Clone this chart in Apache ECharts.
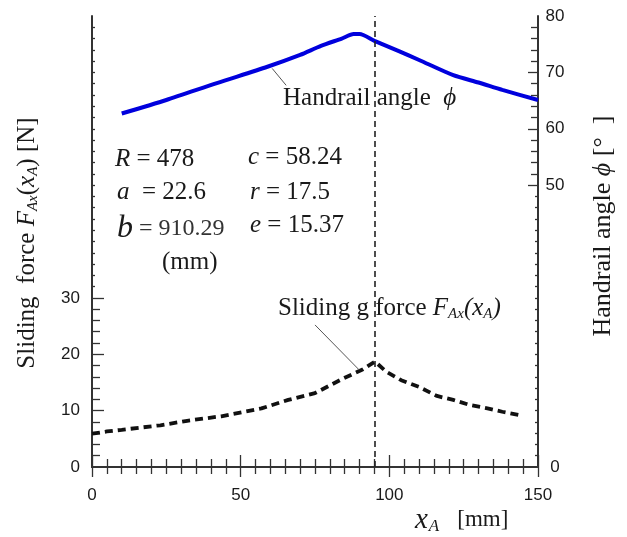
<!DOCTYPE html>
<html>
<head>
<meta charset="utf-8">
<script src="https://cdn.jsdelivr.net/npm/echarts@6/dist/echarts.min.js"></script>
<style>
  html, body { margin: 0; padding: 0; background: #fff; }
  #chart { width: 627px; height: 537px; }
</style>
</head>
<body>
<div id="chart"></div>
<script>
// tick labels
const xTickLabels = [0, 50, 100, 150];
const leftTickLabels = [0, 10, 20, 30];
const rightTickLabels = [0, 50, 60, 70, 80];

// handrail angle phi [deg] (right axis)
const handrailX = [10, 25, 42, 59, 70, 77, 84, 88, 90, 95, 103, 110, 121.5, 130, 138, 150];
const handrailAngle = [62.7, 65.1, 68.1, 71.0, 73.1, 74.7, 76.0, 76.8, 76.8, 75.6, 73.8, 72.2, 69.5, 68.2, 66.9, 65.1];

// sliding force F_Ax(x_A) [N] (left axis)
const forceX = [0, 5, 10, 23, 32, 43.5, 57, 66, 75, 84.5, 91, 95.2, 99, 104, 110, 116, 121.5, 127, 133, 138, 144];
const slidingForce = [5.9, 6.3, 6.6, 7.4, 8.2, 9.0, 10.4, 11.9, 13.1, 15.7, 17.3, 18.7, 16.9, 15.4, 14.2, 12.6, 11.9, 11.0, 10.4, 9.8, 9.2];

const peakX = 95.2;
const handrailLeader = [[60.6, 70.7], [65.3, 67.7]];
const forceLeader = [[75.0, 25.2], [89.9, 17.2]];

const serif = '"Liberation Serif", "Times New Roman", serif';
const sans = '"Liberation Sans", Arial, sans-serif';
const ink = '#1a1a1a';
const axisColor = '#333';

function range(from, to, step, skip) {
  const out = [];
  for (let v = from; v <= to + 1e-9; v += step) {
    if (!skip || v % skip !== 0) out.push(v);
  }
  return out;
}

function yAxisPart(position, ticks, length, labels, extra) {
  return Object.assign({
    type: 'value',
    position: position,
    min: 0,
    max: 80,
    axisLine: { show: false },
    splitLine: { show: false },
    axisTick: {
      show: true, inside: true, length: length, customValues: ticks,
      lineStyle: { color: axisColor, width: 1.3 }
    },
    axisLabel: labels ? {
      show: true, customValues: labels, color: ink,
      fontFamily: sans, fontSize: 17
    } : { show: false }
  }, extra || {});
}

const rich = {
  n: { font: '25px ' + serif, fill: ink },
  t: { font: '26px ' + serif, fill: ink },
  ti: { font: 'italic 26px ' + serif, fill: ink },
  i: { font: 'italic 25px ' + serif, fill: ink },
  s: { font: 'italic 15px ' + serif, fill: ink, padding: [12, 0, 0, 0] },
  b: { font: 'italic 32px ' + serif, fill: ink },
  d: { font: '24px ' + serif, fill: '#333' },
  xi: { font: 'italic 29px ' + serif, fill: ink },
  xs: { font: 'italic 17px ' + serif, fill: ink, padding: [14, 18, 0, 1] },
  xn: { font: '23px ' + serif, fill: ink }
};

function label(x, y, text, rotation) {
  return {
    type: 'text', x: x, y: y, rotation: rotation || 0, silent: true,
    style: {
      text: text, rich: rich, font: '25px ' + serif, fill: ink,
      align: rotation ? 'center' : 'left', verticalAlign: 'middle',
      textAlign: rotation ? 'center' : 'left', textVerticalAlign: 'middle'
    }
  };
}

const chart = echarts.init(document.getElementById('chart'));
chart.setOption({
  animation: false,
  grid: { left: 92, right: 89, top: 16, bottom: 70, containLabel: false, outerBoundsMode: 'none' },
  xAxis: [
    {
      type: 'value', position: 'bottom', min: 0, max: 150, interval: 50,
      axisLine: { show: true, lineStyle: { color: axisColor, width: 2 } },
      axisTick: { show: true, inside: true, length: 12, lineStyle: { color: axisColor, width: 1.3 } },
      minorTick: { show: true, splitNumber: 10, length: 8, lineStyle: { color: axisColor, width: 1.3 } },
      axisLabel: { show: true, customValues: xTickLabels, color: ink, fontFamily: sans, fontSize: 17, margin: 20 },
      splitLine: { show: false }, minorSplitLine: { show: false }
    },
    {
      type: 'value', position: 'top', min: 0, max: 150, interval: 50,
      axisLine: { show: true, lineStyle: { color: axisColor, width: 2 } },
      axisTick: { show: true, inside: true, length: 10, lineStyle: { color: axisColor, width: 1.3 } },
      minorTick: { show: true, splitNumber: 10, length: 7, lineStyle: { color: axisColor, width: 1.3 } },
      axisLabel: { show: false },
      splitLine: { show: false }, minorSplitLine: { show: false }
    }
  ],
  yAxis: [
    yAxisPart('left', [10, 20, 30], 12, leftTickLabels, {
      axisLine: { show: true, lineStyle: { color: axisColor, width: 2 } },
      axisLabel: { show: true, customValues: leftTickLabels, color: ink, fontFamily: sans, fontSize: 17, margin: 12 }
    }),
    yAxisPart('left', range(2, 28, 2, 10), 8),
    yAxisPart('left', range(32, 78, 2), 3),
    yAxisPart('right', [50, 60, 70], 10, rightTickLabels, {
      axisLine: { show: true, lineStyle: { color: axisColor, width: 2 } },
      axisLabel: { show: true, customValues: rightTickLabels, color: ink, fontFamily: sans, fontSize: 17, margin: 17, align: 'center' }
    }),
    yAxisPart('right', range(52, 78, 2, 10), 7),
    yAxisPart('right', range(2, 48, 2), 3)
  ],
  series: [
    {
      name: 'Sliding force', type: 'line', xAxisIndex: 0, yAxisIndex: 0,
      data: forceX.map((x, i) => [x, slidingForce[i]]),
      showSymbol: false, z: 3,
      lineStyle: { color: '#111', width: 3.8, type: [8, 5], cap: 'butt' },
      markLine: {
        silent: true, symbol: ['none', 'none'], label: { show: false },
        data: [
          { xAxis: peakX, lineStyle: { color: '#222', width: 1.6, type: [6, 4] } },
          [
            { coord: forceLeader[0], lineStyle: { color: '#555', width: 1, type: 'solid' } },
            { coord: forceLeader[1] }
          ]
        ]
      }
    },
    {
      name: 'Handrail angle', type: 'line', xAxisIndex: 0, yAxisIndex: 3,
      data: handrailX.map((x, i) => [x, handrailAngle[i]]),
      showSymbol: false, z: 3, smooth: 0.25,
      lineStyle: { color: '#0000dd', width: 4 },
      markLine: {
        silent: true, symbol: ['none', 'none'], label: { show: false },
        data: [[
          { coord: handrailLeader[0], lineStyle: { color: '#555', width: 1, type: 'solid' } },
          { coord: handrailLeader[1] }
        ]]
      }
    }
  ],
  graphic: [
    label(283, 98, '{n|Handrail angle  }{i|ϕ}'),
    label(278, 308, '{n|Sliding g force }{i|F}{s|Ax}{i|(x}{s|A}{i|)}'),
    label(115, 159, '{i|R}{n| = 478}'),
    label(117, 192, '{i|a}{n|  = 22.6}'),
    label(117, 229, '{b|b}{d| = 910.29}'),
    label(248, 157, '{i|c}{n| = 58.24}'),
    label(250, 192, '{i|r}{n| = 17.5}'),
    label(250, 225, '{i|e}{n| = 15.37}'),
    label(162, 262, '{n|(mm)}'),
    label(415, 520, '{xi|x}{xs|A}{xn|[mm]}'),
    label(27, 243, '{n|Sliding  force }{i|F}{s|Ax}{n|(}{i|x}{s|A}{n|) [N]}', Math.PI / 2),
    label(603, 226, '{t|Handrail angle }{ti|ϕ}{t| [°  ]}', Math.PI / 2)
  ]
});
</script>
</body>
</html>
